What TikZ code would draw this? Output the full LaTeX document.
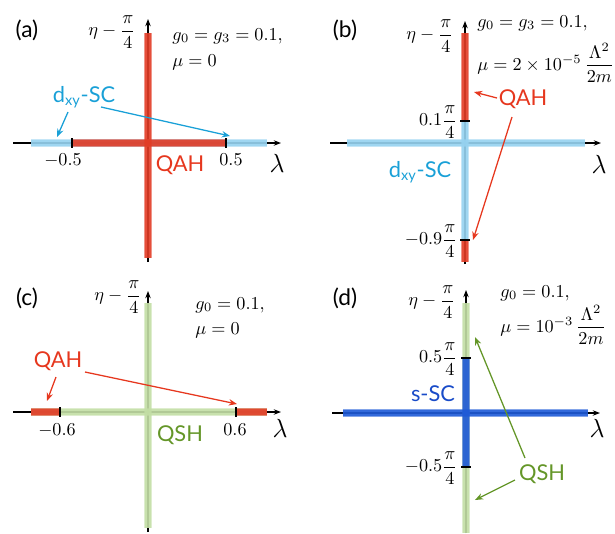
\documentclass[tikz,border=0pt]{standalone}
\usepackage{amsmath}
\usepackage{fontspec}
\setsansfont{Lato}
\usetikzlibrary{arrows.meta}
\definecolor{qahred}{RGB}{230,55,30}
\definecolor{qahband}{RGB}{226,60,38}
\definecolor{dxytext}{RGB}{25,160,215}
\definecolor{dxyband}{RGB}{150,210,240}
\definecolor{qshtext}{RGB}{100,150,40}
\definecolor{qshband}{RGB}{195,222,165}
\definecolor{ssctext}{RGB}{25,75,200}
\definecolor{sscband}{RGB}{30,90,215}
\newcommand{\myband}[3]{%
  \draw[line width=4.4pt,#1,opacity=0.55] #2 -- #3;
  \draw[line width=2.8pt,#1,opacity=0.8] #2 -- #3;}
\begin{document}
\begin{tikzpicture}[x=0.55pt,y=-0.55pt,
  axisline/.style={line width=0.6pt,-{Stealth[length=4pt,width=3pt]}},
  tickline/.style={line width=0.7pt,black},
  annot/.style={line width=0.7pt,-{Stealth[length=4.5pt,width=3.5pt]}},
  phase/.style={font=\sffamily\fontsize{12}{14}\selectfont,inner sep=1pt},
  panel/.style={font=\sffamily\fontsize{12.5}{14}\selectfont,inner sep=0pt},
  ticklab/.style={inner sep=0pt,font=\fontsize{10}{12}\selectfont},
  lamlab/.style={inner sep=0pt,font=\fontsize{14}{16}\selectfont},
  param/.style={anchor=west,inner sep=0pt,font=\fontsize{10}{12}\selectfont},
  font=\fontsize{10}{12}\selectfont]
\useasboundingbox (0,0) rectangle (615,533);

% ================= (a)
\coordinate (axL) at (13,143); \coordinate (axR) at (281,143);
\coordinate (ayB) at (148,262); \coordinate (ayT) at (148,19);
\draw[axisline] (axL) -- (axR);
\draw[axisline] (ayB) -- (ayT);
\myband{dxyband}{(31,143)}{(267,143)}
\myband{qahband}{(72,143)}{(226,143)}
\myband{qahband}{(148,33)}{(148,258)}
\draw[tickline] (72,138) -- (72,148);
\draw[tickline] (226,138) -- (226,148);
\node[ticklab] (a-m05) at (63,160) {$-0.5$};
\node[ticklab] (a-p05) at (231,160) {$0.5$};
\node[lamlab] (a-lam) at (277,163) {$\lambda$};
\node[ticklab] (a-eta) at (112,32) {$\eta-\dfrac{\pi}{4}$};
\node[param] (a-g) at (172,36) {$g_0=g_3=0.1,$};
\node[param] (a-mu) at (172,62) {$\mu=0$};
\node[panel] (a-lab) at (27,30) {(a)};
\node[phase,text=qahred] (a-qah) at (180,165) {QAH};
\node[phase,text=dxytext] (a-dxy) at (84,97) {d\textsubscript{xy}-SC};
\coordinate (a-s1) at (68,112); \coordinate (a-e1) at (57,137);
\coordinate (a-s2) at (101,107); \coordinate (a-e2) at (230,136);
\draw[annot,dxytext] (a-s1) -- (a-e1);
\draw[annot,dxytext] (a-s2) -- (a-e2);

% ================= (b)
\coordinate (bxL) at (330,143); \coordinate (bxR) at (601,143);
\coordinate (byB) at (465,264); \coordinate (byT) at (465,21);
\draw[axisline] (bxL) -- (bxR);
\draw[axisline] (byB) -- (byT);
\myband{dxyband}{(347,143)}{(585,143)}
\myband{dxyband}{(465,121)}{(465,240)}
\myband{qahband}{(465,33)}{(465,121)}
\myband{qahband}{(465,240)}{(465,262)}
\draw[tickline] (460,121) -- (470,121);
\draw[tickline] (460,240) -- (470,240);
\node[ticklab,anchor=east] (b-t1) at (458,122) {$0.1\dfrac{\pi}{4}$};
\node[ticklab,anchor=east] (b-t2) at (458,241) {$-0.9\dfrac{\pi}{4}$};
\node[lamlab] (b-lam) at (599,164) {$\lambda$};
\node[ticklab] (b-eta) at (430,36) {$\eta-\dfrac{\pi}{4}$};
\node[param] (b-g) at (477,23) {$g_0=g_3=0.1,$};
\node[param] (b-mu) at (477,63) {$\mu=2\times10^{-5}\,\dfrac{\Lambda^2}{2m}$};
\node[panel] (b-lab) at (345,30) {(b)};
\node[phase,text=dxytext] (b-dxy) at (420,172) {d\textsubscript{xy}-SC};
\node[phase,text=qahred] (b-qah) at (523,99) {QAH};
\coordinate (b-s1) at (497,98); \coordinate (b-e1) at (474,92);
\coordinate (b-s2) at (512,117); \coordinate (b-e2) at (473,240);
\draw[annot,qahred] (b-s1) -- (b-e1);
\draw[annot,qahred] (b-s2) -- (b-e2);

% ================= (c)
\coordinate (cxL) at (13,412); \coordinate (cxR) at (281,412);
\coordinate (cyB) at (148,532); \coordinate (cyT) at (148,291);
\draw[axisline] (cxL) -- (cxR);
\draw[axisline] (cyB) -- (cyT);
\myband{qshband}{(31,412)}{(267,412)}
\myband{qshband}{(148,303)}{(148,528)}
\myband{qahband}{(31,412)}{(60,412)}
\myband{qahband}{(236,412)}{(267,412)}
\draw[tickline] (60,407) -- (60,417);
\draw[tickline] (236,407) -- (236,417);
\node[ticklab] (c-m06) at (57,430) {$-0.6$};
\node[ticklab] (c-p06) at (235,430) {$0.6$};
\node[lamlab] (c-lam) at (280,428) {$\lambda$};
\node[ticklab] (c-eta) at (118,297) {$\eta-\dfrac{\pi}{4}$};
\node[param] (c-g) at (195,305) {$g_0=0.1,$};
\node[param] (c-mu) at (195,330) {$\mu=0$};
\node[panel] (c-lab) at (27,298) {(c)};
\node[phase,text=qshtext] (c-qsh) at (180,435) {QSH};
\node[phase,text=qahred] (c-qah) at (58,361) {QAH};
\coordinate (c-s1) at (56,377); \coordinate (c-e1) at (47,401);
\coordinate (c-s2) at (85,372); \coordinate (c-e2) at (237,404);
\draw[annot,qahred] (c-s1) -- (c-e1);
\draw[annot,qahred] (c-s2) -- (c-e2);

% ================= (d)
\coordinate (dxL) at (332,413); \coordinate (dxR) at (600,413);
\coordinate (dyB) at (466,533); \coordinate (dyT) at (466,290);
\draw[axisline] (dxL) -- (dxR);
\draw[axisline] (dyB) -- (dyT);
\myband{qshband}{(466,303)}{(466,533)}
\myband{sscband}{(343,413)}{(588,413)}
\myband{sscband}{(466,358)}{(466,467)}
\draw[tickline] (461,358) -- (471,358);
\draw[tickline] (461,467) -- (471,467);
\node[ticklab,anchor=east] (d-t1) at (458,359) {$0.5\dfrac{\pi}{4}$};
\node[ticklab,anchor=east] (d-t2) at (458,468) {$-0.5\dfrac{\pi}{4}$};
\node[lamlab] (d-lam) at (597,428) {$\lambda$};
\node[ticklab] (d-eta) at (432,302) {$\eta-\dfrac{\pi}{4}$};
\node[param] (d-g) at (500,293) {$g_0=0.1,$};
\node[param] (d-mu) at (500,325) {$\mu=10^{-3}\,\dfrac{\Lambda^2}{2m}$};
\node[panel] (d-lab) at (345,298) {(d)};
\node[phase,text=ssctext] (d-ssc) at (433,394) {s-SC};
\node[phase,text=qshtext] (d-qsh) at (542,474) {QSH};
\coordinate (d-s1) at (525,458); \coordinate (d-e1) at (475,337);
\coordinate (d-s2) at (515,480); \coordinate (d-e2) at (475,500);
\draw[annot,qshtext] (d-s1) -- (d-e1);
\draw[annot,qshtext] (d-s2) -- (d-e2);
\end{tikzpicture}
\end{document}
